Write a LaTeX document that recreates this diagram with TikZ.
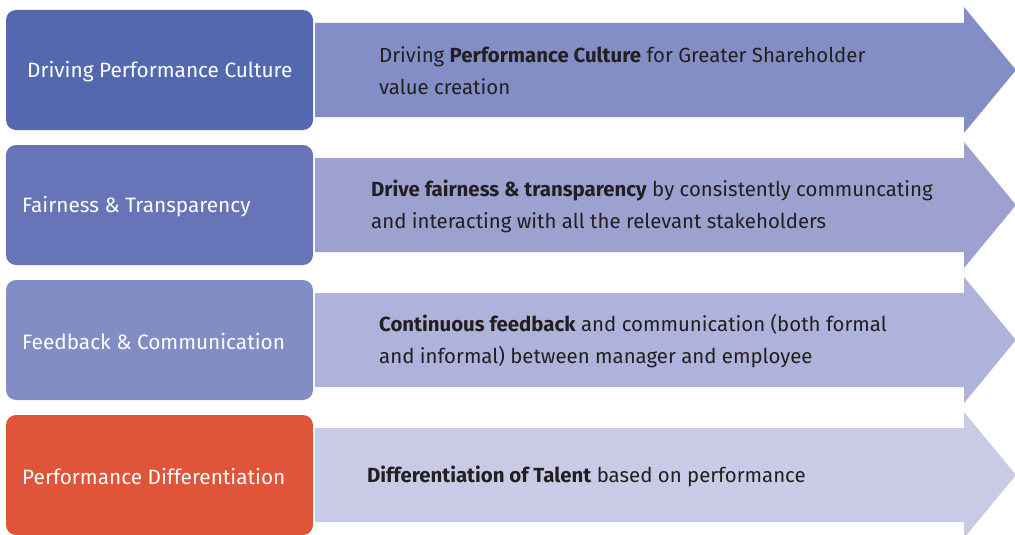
\documentclass[tikz,border=0pt]{standalone}
\usepackage{fontspec}
\setmainfont{Fira Sans}
\usepackage{xcolor}
\usepackage{tikz}

\definecolor{cardone}{HTML}{5468B0}
\definecolor{cardtwo}{HTML}{6774B8}
\definecolor{cardthree}{HTML}{838DC5}
\definecolor{cardfour}{HTML}{E0543A}
\definecolor{bandone}{HTML}{848EC6}
\definecolor{bandtwo}{HTML}{9CA1D0}
\definecolor{bandthree}{HTML}{AEB3DB}
\definecolor{bandfour}{HTML}{C8CAE6}
\definecolor{ink}{HTML}{231F20}

\begin{document}
\begin{tikzpicture}[x=1pt, y=-1pt,
        card/.style = {rounded corners=10pt},
        title/.style = {anchor=west, inner sep=0pt, text=white,
            font=\fontsize{20.8}{24}\selectfont},
        point/.style = {anchor=west, inner sep=0pt, align=left, text=ink,
            font=\fontsize{20.4}{32}\selectfont}]
        \useasboundingbox (0, 0) rectangle (1015, 535);
        \clip (0, 0) rectangle (1015, 535);

        % arrows behind the cards
        \fill[bandone] (315, 23) -- (964, 23) -- (964, 7) -- (1016, 70)
            -- (964, 133) -- (964, 117) -- (315, 117) -- cycle;
        \fill[bandtwo] (315, 158) -- (964, 158) -- (964, 142) -- (1016, 205)
            -- (964, 268) -- (964, 252) -- (315, 252) -- cycle;
        \fill[bandthree] (315, 293) -- (964, 293) -- (964, 277) -- (1016, 340)
            -- (964, 403) -- (964, 387) -- (315, 387) -- cycle;
        \fill[bandfour] (315, 428) -- (964, 428) -- (964, 412) -- (1016, 475)
            -- (964, 538) -- (964, 522) -- (315, 522) -- cycle;

        % cards on the left
        \fill[cardone, card] (6, 10) rectangle (313, 130);
        \fill[cardtwo, card] (6, 145) rectangle (313, 265);
        \fill[cardthree, card] (6, 280) rectangle (313, 400);
        \fill[cardfour, card] (6, 415) rectangle (313, 535);

        \node[title] (culture) at (27, 72) {Driving Performance Culture};
        \node[title] (fairness) at (22, 207) {Fairness \& Transparency};
        \node[title] (feedback) at (22, 342) {Feedback \& Communication};
        \node[title] (differ) at (22, 477) {Performance Differentiation};

        \node[point] (culturetext) at (379, 71)
            {Driving \textbf{Performance Culture} for Greater Shareholder\\value creation};
        \node[point] (fairnesstext) at (371, 206)
            {\textbf{Drive fairness \& transparency} by consistently communcating\\and interacting with all the relevant stakeholders};
        \node[point] (feedbacktext) at (379, 341)
            {\textbf{Continuous feedback} and communication (both formal\\and informal) between manager and employee};
        \node[point] (differtext) at (367, 476)
            {\textbf{Differentiation of Talent} based on performance};
\end{tikzpicture}
\end{document}
